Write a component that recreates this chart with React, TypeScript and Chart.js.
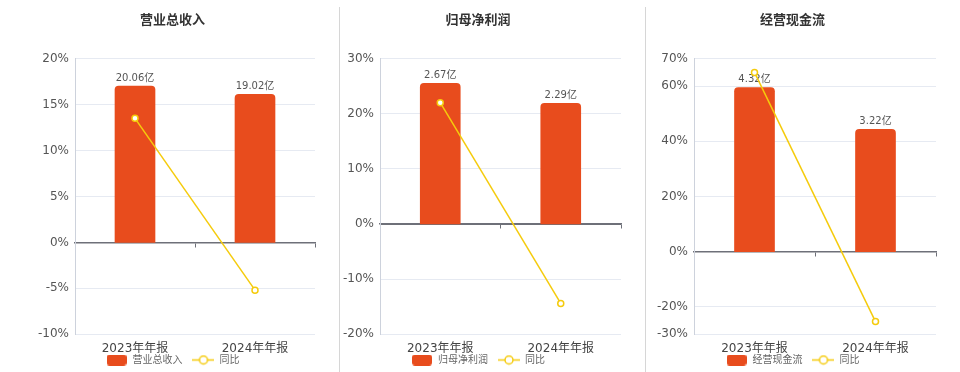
import { useEffect, useRef } from 'react';
import { Chart, registerables } from 'chart.js';

Chart.register(...registerables);

// ---------- data ----------
const categories = ['2023年年报', '2024年年报'];
const panelTitles = ['营业总收入', '归母净利润', '经营现金流'];
const yoyLabel = '同比';
const valueUnit = '亿';

const revenueValues = [20.06, 19.02];
const revenueYoY = [13.5, -5.2];
const revenueTicks = [-10, -5, 0, 5, 10, 15, 20];

const profitValues = [2.67, 2.29];
const profitYoY = [22.0, -14.4];
const profitTicks = [-20, -10, 0, 10, 20, 30];

const cashFlowValues = [4.32, 3.22];
const cashFlowYoY = [65.0, -25.4];
const cashFlowTicks = [-30, -20, 0, 20, 40, 60, 70];

// ---------- style ----------
const FONT = "'DejaVu Sans', 'Noto Sans CJK SC', sans-serif";
const BAR_COLOR = '#e84c1d';
const LINE_COLOR = '#f5cb0c';
const ZERO_COLOR = '#6e7079';
const GRID_COLOR = '#e6eaf2';

type PanelProps = {
  title: string;
  values: number[];
  yoy: number[];
  ticks: number[];
  left: number;
  padLeft: number;
  padRight: number;
};

function makeBarSwatch() {
  const c = document.createElement('canvas');
  c.width = 20;
  c.height = 11;
  const g = c.getContext('2d')!;
  g.fillStyle = BAR_COLOR;
  g.beginPath();
  (g as any).roundRect(0, 0, 20, 11, 3);
  g.fill();
  return c;
}

function makeLineSwatch() {
  const c = document.createElement('canvas');
  c.width = 22;
  c.height = 11;
  const g = c.getContext('2d')!;
  g.strokeStyle = LINE_COLOR;
  g.lineWidth = 1.5;
  g.beginPath();
  g.moveTo(0, 5.5);
  g.lineTo(22, 5.5);
  g.stroke();
  g.beginPath();
  g.arc(11, 5.5, 4, 0, Math.PI * 2);
  g.fillStyle = '#fff';
  g.fill();
  g.stroke();
  return c;
}

const barValueLabels = {
  id: 'barValueLabels',
  afterDatasetDraw(chart: any, args: any) {
    if (args.meta.type !== 'bar') return;
    const ctx = chart.ctx;
    const data = chart.data.datasets[args.index].data;
    ctx.save();
    ctx.font = `10px ${FONT}`;
    ctx.fillStyle = '#555';
    ctx.textAlign = 'center';
    ctx.textBaseline = 'bottom';
    args.meta.data.forEach((el: any, i: number) => {
      ctx.fillText(`${Number(data[i]).toFixed(2)}${valueUnit}`, el.x, el.y - 3);
    });
    ctx.restore();
  },
};

function Panel({ title, values, yoy, ticks, left, padLeft, padRight }: PanelProps) {
  const ref = useRef<HTMLCanvasElement>(null);

  useEffect(() => {
    if (!ref.current) return;
    const yMin = ticks[0];
    const yMax = ticks[ticks.length - 1];
    const y1Max = Math.max(...values) / 0.85;
    const y1Min = (y1Max * yMin) / yMax;
    const barSwatch = makeBarSwatch();
    const lineSwatch = makeLineSwatch();

    const chart = new Chart(ref.current, {
      type: 'bar',
      data: {
        labels: categories,
        datasets: [
          {
            type: 'bar',
            label: title,
            data: values,
            xAxisID: 'x',
            yAxisID: 'y1',
            backgroundColor: BAR_COLOR,
            borderWidth: 0,
            borderRadius: { topLeft: 4, topRight: 4, bottomLeft: 0, bottomRight: 0 },
            borderSkipped: 'start',
            barThickness: 40,
            order: 2,
          } as any,
          {
            type: 'line',
            label: yoyLabel,
            data: yoy,
            xAxisID: 'x',
            yAxisID: 'y',
            borderColor: LINE_COLOR,
            borderWidth: 1.5,
            pointRadius: 3,
            pointBackgroundColor: '#fff',
            pointBorderColor: LINE_COLOR,
            pointBorderWidth: 1.5,
            tension: 0,
            order: 1,
          } as any,
        ],
      },
      options: {
        animation: false,
        responsive: false,
        maintainAspectRatio: false,
        layout: { padding: { top: 0, left: padLeft, right: padRight, bottom: 1 } },
        plugins: {
          title: {
            display: true,
            text: title,
            color: '#333',
            font: { family: FONT, size: 13, weight: 'bold' },
            padding: { top: 13, bottom: 30 },
          },
          legend: {
            position: 'bottom',
            title: {
              display: true,
              text: ' ',
              font: { size: 1 },
              padding: { top: 0, bottom: 9.5 },
            },
            labels: {
              usePointStyle: true,
              pointStyleWidth: 22,
              boxHeight: 10,
              padding: 10,
              color: '#666',
              font: { family: FONT, size: 10 },
              generateLabels: (c: any) =>
                c.data.datasets.map((ds: any, i: number) => ({
                  text: ds.label,
                  pointStyle: i === 0 ? barSwatch : lineSwatch,
                  datasetIndex: i,
                  hidden: false,
                  fillStyle: 'transparent',
                  strokeStyle: 'transparent',
                  lineWidth: 0,
                  fontColor: '#666',
                })),
            },
          },
          tooltip: { enabled: false },
        },
        scales: {
          x: {
            type: 'category',
            position: { y: 0 },
            offset: true,
            grid: { offset: true, drawOnChartArea: false, tickLength: 4, color: ZERO_COLOR, lineWidth: 1 },
            border: { color: ZERO_COLOR, width: 1.5 },
            ticks: { display: false },
          },
          x2: {
            type: 'category',
            axis: 'x',
            position: { y: yMin },
            offset: true,
            grid: { display: false, drawTicks: false },
            border: { display: false },
            ticks: { padding: 7, color: '#444', font: { family: FONT, size: 12 } },
          },
          y: {
            type: 'linear',
            position: 'left',
            min: yMin,
            max: yMax,
            afterBuildTicks: (s: any) => {
              s.ticks = ticks.map((v) => ({ value: v }));
            },
            ticks: {
              padding: 6,
              color: '#555',
              font: { family: FONT, size: 12 },
              callback: (v: any) => `${v}%`,
            },
            grid: {
              drawTicks: false,
              color: (ctx: any) => (ctx.tick && ctx.tick.value === 0 ? ZERO_COLOR : GRID_COLOR),
            },
            border: { color: '#cdd2dc' },
            afterFit: (s: any) => {
              s.width = 45;
            },
          },
          y1: {
            type: 'linear',
            axis: 'y',
            position: 'right',
            display: false,
            min: y1Min,
            max: y1Max,
          },
        } as any,
      },
      plugins: [barValueLabels],
    } as any);

    return () => chart.destroy();
  }, [title, values, yoy, ticks, padLeft, padRight]);

  return (
    <canvas
      ref={ref}
      width={330}
      height={376}
      style={{ position: 'absolute', left, top: 0, width: 330, height: 376 }}
    />
  );
}

export default function App() {
  return (
    <div
      style={{
        position: 'absolute',
        left: 0,
        top: 0,
        width: 960,
        height: 372,
        overflow: 'hidden',
        background: '#fff',
      }}
    >
      <Panel title={panelTitles[0]} values={revenueValues} yoy={revenueYoY} ticks={revenueTicks} left={8} padLeft={22} padRight={23} />
      <Panel title={panelTitles[1]} values={profitValues} yoy={profitYoY} ticks={profitTicks} left={315} padLeft={20} padRight={24} />
      <Panel title={panelTitles[2]} values={cashFlowValues} yoy={cashFlowYoY} ticks={cashFlowTicks} left={630} padLeft={19} padRight={24} />
      <div style={{ position: 'absolute', left: 339, top: 7, width: 1, height: 365, background: '#d6d6d6' }} />
      <div style={{ position: 'absolute', left: 645, top: 7, width: 1, height: 365, background: '#d6d6d6' }} />
    </div>
  );
}
